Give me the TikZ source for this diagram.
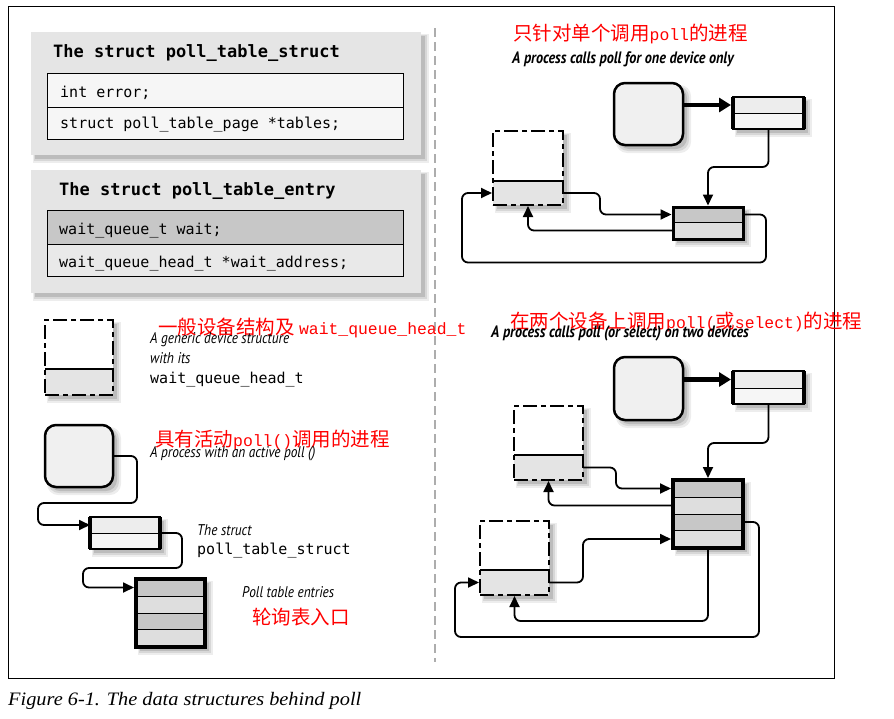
\documentclass[tikz,border=0pt]{standalone}
\usepackage{fontspec}
\setmainfont{Liberation Serif}
\newfontfamily\capfont[FakeStretch=1.07]{Liberation Serif}
\newfontfamily\cjk{Noto Sans CJK SC}
\newfontfamily\rmono{Liberation Mono}
\newfontfamily\tmono{DejaVu Sans Mono}
\newfontfamily\lab[FakeStretch=0.86]{PT Sans}
\usetikzlibrary{arrows.meta,calc}
\definecolor{panel}{gray}{0.90}
\definecolor{rowdark}{gray}{0.78}
\definecolor{rowmid}{gray}{0.87}
\definecolor{rowlight}{gray}{0.93}
\definecolor{rowwhite}{gray}{0.965}
\definecolor{procfill}{gray}{0.94}
\definecolor{sepgray}{gray}{0.68}
\newcommand\Lat[1]{{\rmono\fontsize{16.4}{16.4}\selectfont #1}}
\newcommand\softshadow[5]{%
  \fill[black,opacity=0.07,rounded corners=#5] (#1+2,#2+2) rectangle (#3+8,#4+8);
  \fill[black,opacity=0.09,rounded corners=#5] (#1+3,#2+3) rectangle (#3+6,#4+6);
  \fill[black,opacity=0.12,rounded corners=#5] (#1+4,#2+4) rectangle (#3+4,#4+4);
}
\tikzset{
  box/.style={inner sep=0pt, outer sep=0pt, anchor=north west},
  panelbox/.style={box, fill=panel},
  row/.style={box, draw, line width=1pt},
  conn/.style={line width=1.8pt, rounded corners=6pt, -{Triangle[length=11pt,width=10pt]}},
  bigarrow/.style={line width=4.5pt, -{Triangle[length=12pt,width=14pt]}},
  devbox/.style={box, draw, line width=2pt, dash pattern=on 14pt off 4pt on 5pt off 4pt},
  procbox/.style={box, draw, fill=procfill, line width=2.5pt, rounded corners=11pt},
  cjktext/.style={text=red, font=\cjk\fontsize{19.5}{19.5}\selectfont, inner sep=0pt, anchor=base west},
  labit/.style={font=\lab\itshape\fontsize{15.5}{15.5}\selectfont, inner sep=0pt, anchor=base west},
  labbi/.style={font=\lab\bfseries\itshape\fontsize{16.5}{16.5}\selectfont, inner sep=0pt, anchor=base west},
  monotext/.style={font=\tmono\fontsize{15}{15}\selectfont, inner sep=0pt, anchor=base west},
  monotitle/.style={font=\tmono\bfseries\fontsize{17}{17}\selectfont, inner sep=0pt, anchor=base west},
}
\begin{document}
\begin{tikzpicture}[x=1pt,y=-1pt]
\useasboundingbox (0,0) rectangle (894,718);
\fill[white] (0,0) rectangle (894,718);
% frame
\draw[line width=1pt] (8,6) rectangle (834,678);
\draw[sepgray, line width=2pt, dash pattern=on 9pt off 5pt] (435,28) -- (435,662);
\node[font=\capfont\itshape\fontsize{19}{19}\selectfont, inner sep=0pt, anchor=base west] (cap) at (8,705) {Figure 6-1. The data structures behind poll};

% ===== Panel 1
\softshadow{31}{32}{421}{155}{0pt}
\node[panelbox, minimum width=390pt, minimum height=123pt] (p1) at (31,32) {};
\node[monotitle] (p1t) at (53,57) {The struct poll\_table\_struct};
\node[row, fill=rowwhite, minimum width=356pt, minimum height=34pt] (p1a) at (47,73) {};
\node[row, fill=rowwhite, minimum width=356pt, minimum height=32pt] (p1b) at (47,107) {};
\node[monotext] (p1at) at (60,97) {int error;};
\node[monotext] (p1bt) at (60,128) {struct poll\_table\_page *tables;};

% ===== Panel 2
\softshadow{31}{170}{421}{293}{0pt}
\node[panelbox, minimum width=390pt, minimum height=123pt] (p2) at (31,170) {};
\node[monotitle] (p2t) at (59,195) {The struct poll\_table\_entry};
\node[row, fill=rowdark, minimum width=356pt, minimum height=34pt] (p2a) at (47,210) {};
\node[row, fill=panel!85!white, minimum width=356pt, minimum height=32pt] (p2b) at (47,244) {};
\node[monotext] (p2at) at (59,234) {wait\_queue\_t wait;};
\node[monotext] (p2bt) at (59,267) {wait\_queue\_head\_t *wait\_address;};

% ===== Legend: device
\softshadow{45}{320}{113}{395}{0pt}
\fill[white] (45,320) rectangle (113,369);
\node[box, fill=rowmid!80!white, minimum width=68pt, minimum height=26pt] (dLb) at (45,369) {};
\node[devbox, minimum width=68pt, minimum height=75pt] (dL) at (45,320) {};
\draw[line width=1.2pt] (dLb.north west) -- (dLb.north east);
\node[cjktext] (rl1) at (158,334) {一般设备结构及\ \Lat{wait\_queue\_head\_t}};
\node[labit] (l1) at (150,343) {A generic device structure};
\node[labit] (l2) at (150,363) {with its};
\node[monotext] (l3) at (150,383) {wait\_queue\_head\_t};

% ===== Legend: process
\softshadow{45}{425}{113}{487}{11pt}
\node[procbox, minimum width=68pt, minimum height=62pt] (pL) at (45,425) {};
\node[cjktext] (rl2) at (155,446) {具有活动\Lat{poll()}调用的进程};
\node[labit] (l4) at (150,457) {A process with an active poll ()};

% ===== Legend: poll_table_struct
\softshadow{90}{517}{160}{549}{0pt}
\node[box, fill=rowlight, minimum width=70pt, minimum height=16pt] (sLa) at (90,517) {};
\node[box, fill=rowwhite, minimum width=70pt, minimum height=16pt] (sLb) at (90,533) {};
\node[box, draw, line width=1.5pt, minimum width=70pt, minimum height=32pt] (sL) at (90,517) {};
\draw[line width=1pt] (sLa.south west) -- (sLa.south east);
\draw[line width=4pt] (sL.north west) -- (sL.south west);
\draw[line width=4pt] (sL.north east) -- (sL.south east);
\node[labit] (l5) at (197,535) {The struct};
\node[monotext] (l6) at (197,554) {poll\_table\_struct};

% ===== Legend: poll table entries
\softshadow{136}{579}{205}{647}{0pt}
\node[box, fill=rowdark, minimum width=69pt, minimum height=17pt] (eLa) at (136,579) {};
\node[box, fill=rowmid, minimum width=69pt, minimum height=17pt] (eLb) at (136,596) {};
\node[box, fill=rowdark, minimum width=69pt, minimum height=16pt] (eLc) at (136,613) {};
\node[box, fill=rowmid, minimum width=69pt, minimum height=18pt] (eLd) at (136,629) {};
\node[box, draw, line width=4.5pt, minimum width=69pt, minimum height=68pt] (eL) at (136,579) {};
\draw[line width=1pt] (eLa.south west) -- (eLa.south east);
\draw[line width=1pt] (eLb.south west) -- (eLb.south east);
\draw[line width=1pt] (eLc.south west) -- (eLc.south east);
\node[labit] (l7) at (242,597) {Poll table entries};
\node[cjktext] (rl3) at (252,624) {轮询表入口};

% legend connectors
\draw[conn] (pL.east) -- ++(24,0) -- ++(0,47) -| ([xshift=-52pt]sLa.west) -- (sLa.west);
\draw[conn] (sL.east) -- ++(22,0) -- ++(0,35) -| ([xshift=-53pt]eLa.west) -- ([xshift=-2pt]eLa.west);

% ===== Top right
\node[cjktext] (rt1) at (513,40) {只针对单个调用\Lat{poll}的进程};
\node[labbi] (t1) at (512,63) {A process calls poll for one device only};

\softshadow{614}{83}{683}{145}{11pt}
\node[procbox, minimum width=69pt, minimum height=62pt] (proc1) at (614,83) {};

\softshadow{733}{97}{804}{129}{0pt}
\node[box, fill=rowlight, minimum width=71pt, minimum height=16pt] (s1a) at (733,97) {};
\node[box, fill=rowwhite, minimum width=71pt, minimum height=16pt] (s1b) at (733,113) {};
\node[box, draw, line width=1.5pt, minimum width=71pt, minimum height=32pt] (s1) at (733,97) {};
\draw[line width=1pt] (s1a.south west) -- (s1a.south east);
\draw[line width=4pt] (s1.north west) -- (s1.south west);
\draw[line width=4pt] (s1.north east) -- (s1.south east);

\softshadow{673}{207}{743}{239}{0pt}
\node[box, fill=rowdark, minimum width=70pt, minimum height=15pt] (e1a) at (673,207) {};
\node[box, fill=rowmid, minimum width=70pt, minimum height=17pt] (e1b) at (673,222) {};
\node[box, draw, line width=3pt, minimum width=70pt, minimum height=32pt] (e1) at (673,207) {};
\draw[line width=1pt] (e1a.south west) -- (e1a.south east);

\softshadow{493}{131}{563}{205}{0pt}
\fill[white] (493,131) rectangle (563,181);
\node[box, fill=rowmid!80!white, minimum width=70pt, minimum height=24pt] (d1b) at (493,181) {};
\node[devbox, minimum width=70pt, minimum height=74pt] (d1) at (493,131) {};
\draw[line width=1.2pt] (d1b.north west) -- (d1b.north east);

\draw[bigarrow] (proc1.east |- s1a.west) -- ([xshift=-2pt]s1a.west);
\draw[conn] (s1.south) -- ++(0,38) -| ([yshift=1.5pt]e1.north);
\draw[conn] (d1b.east) -- ++(37,0) |- ([xshift=-1.5pt]e1a.west);
\draw[conn] (e1b.west) -| ([yshift=-1pt]d1.south);
\draw[conn] (e1a.east) -- ++(23,0) -- ++(0,48) -| ([xshift=-31pt]d1b.west) -- ([xshift=-1pt]d1b.west);

% ===== Bottom right
\node[cjktext] (rt2) at (510,328) {在两个设备上调用\Lat{poll(}或\Lat{select)}的进程};
\node[labbi] (t2) at (491,337) {A process calls poll (or select) on two devices};

\softshadow{614}{357}{683}{420}{11pt}
\node[procbox, minimum width=69pt, minimum height=63pt] (proc2) at (614,357) {};

\softshadow{733}{371}{804}{404}{0pt}
\node[box, fill=rowlight, minimum width=71pt, minimum height=17pt] (s2a) at (733,371) {};
\node[box, fill=rowwhite, minimum width=71pt, minimum height=16pt] (s2b) at (733,388) {};
\node[box, draw, line width=1.5pt, minimum width=71pt, minimum height=33pt] (s2) at (733,371) {};
\draw[line width=1pt] (s2a.south west) -- (s2a.south east);
\draw[line width=4pt] (s2.north west) -- (s2.south west);
\draw[line width=4pt] (s2.north east) -- (s2.south east);

\softshadow{673}{480}{743}{548}{0pt}
\node[box, fill=rowdark, minimum width=70pt, minimum height=17pt] (e2a) at (673,480) {};
\node[box, fill=rowmid, minimum width=70pt, minimum height=17pt] (e2b) at (673,497) {};
\node[box, fill=rowdark, minimum width=70pt, minimum height=16pt] (e2c) at (673,514) {};
\node[box, fill=rowmid, minimum width=70pt, minimum height=18pt] (e2d) at (673,530) {};
\node[box, draw, line width=4.5pt, minimum width=70pt, minimum height=68pt] (e2) at (673,480) {};
\draw[line width=1pt] (e2a.south west) -- (e2a.south east);
\draw[line width=1pt] (e2b.south west) -- (e2b.south east);
\draw[line width=1pt] (e2c.south west) -- (e2c.south east);

\softshadow{514}{406}{583}{480}{0pt}
\fill[white] (514,406) rectangle (583,455);
\node[box, fill=rowmid!80!white, minimum width=69pt, minimum height=25pt] (dAb) at (514,455) {};
\node[devbox, minimum width=69pt, minimum height=74pt] (dA) at (514,406) {};
\draw[line width=1.2pt] (dAb.north west) -- (dAb.north east);

\softshadow{480}{521}{549}{595}{0pt}
\fill[white] (480,521) rectangle (549,570);
\node[box, fill=rowmid!80!white, minimum width=69pt, minimum height=25pt] (dBb) at (480,570) {};
\node[devbox, minimum width=69pt, minimum height=74pt] (dB) at (480,521) {};
\draw[line width=1.2pt] (dBb.north west) -- (dBb.north east);

\draw[bigarrow] (proc2.east |- s2a.west) -- ([xshift=-2pt]s2a.west);
\draw[conn] (s2.south) -- ++(0,39) -| ([yshift=2pt]e2.north);
\draw[conn] (dAb.east) -- ++(33,0) |- ([xshift=-2pt]e2a.west);
\draw[conn] (e2b.west) -| ([yshift=-1pt]dA.south);
\draw[conn] (dBb.east) -- ++(34,0) |- ([xshift=-2pt]e2d.west);
\draw[conn] (e2.south) -- ++(0,73) -| ([yshift=-1pt]dB.south);
\draw[conn] (e2c.east) -- ++(16,0) -- ++(0,115) -| ([xshift=-25pt]dBb.west) -- ([xshift=-1pt]dBb.west);
\end{tikzpicture}
\end{document}
